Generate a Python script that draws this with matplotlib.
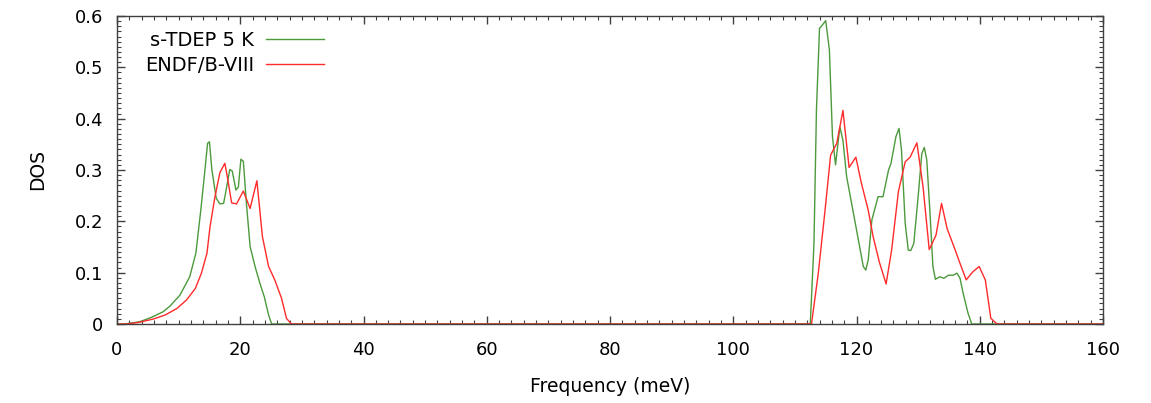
import matplotlib
matplotlib.use("Agg")
import matplotlib.pyplot as plt
from matplotlib.ticker import MultipleLocator

# s-TDEP 5 K phonon DOS (meV, states)
tdep_freq = [0.0, 1.3, 3.7, 5.6, 7.5, 8.6, 10.2, 11.8, 12.8, 13.6, 14.1, 14.7, 15.0,
             15.4, 16.1, 16.7, 17.3, 17.8, 18.3, 18.7, 19.3, 19.7, 20.1, 20.5, 21.0,
             21.6, 22.4, 23.2, 23.9, 24.6, 25.1,
             112.5, 113.1, 113.5, 114.0, 114.5, 115.0, 115.6, 116.1, 116.6, 117.3,
             117.8, 118.4, 119.5, 120.3, 121.1, 121.5, 121.9, 122.5, 123.5, 124.3,
             125.2, 125.6, 126.4, 126.9, 127.3, 127.9, 128.4, 128.8, 129.3, 130.0,
             130.6, 131.0, 131.4, 131.9, 132.4, 132.8, 133.5, 134.2, 134.9, 135.7,
             136.3, 136.8, 137.3, 138.1, 138.7, 160.0]
tdep_dos = [0.0, 0.0, 0.0045, 0.013, 0.024, 0.035, 0.056, 0.092, 0.138, 0.222, 0.28, 0.352, 0.355,
            0.30, 0.245, 0.234, 0.235, 0.267, 0.301, 0.298, 0.261, 0.267, 0.321, 0.317, 0.235,
            0.151, 0.112, 0.079, 0.053, 0.0175, 0.0,
            0.0, 0.157, 0.417, 0.576, 0.583, 0.591, 0.534, 0.365, 0.31, 0.384,
            0.358, 0.287, 0.216, 0.164, 0.112, 0.105, 0.125, 0.203, 0.248, 0.248,
            0.30, 0.313, 0.365, 0.381, 0.339, 0.196, 0.144, 0.143, 0.157, 0.248,
            0.332, 0.344, 0.32, 0.222, 0.112, 0.087, 0.092, 0.089, 0.095, 0.095,
            0.099, 0.089, 0.06, 0.021, 0.0, 0.0]

# ENDF/B-VIII phonon DOS
endf_freq = [0.0, 1.5, 3.5, 5.9, 7.8, 9.7, 11.3, 12.7, 13.7, 14.6, 15.1, 15.9, 16.7,
             17.5, 17.9, 18.6, 19.4, 20.5, 21.6, 22.7, 23.6, 24.6, 25.6, 26.7, 27.5, 28.3,
             112.7, 113.8, 114.9, 115.8, 116.8, 117.8, 118.8, 119.9, 120.8, 121.9,
             122.7, 123.7, 124.8, 125.7, 126.8, 127.9, 128.7, 129.8, 130.8, 131.8,
             132.9, 133.8, 134.7, 135.8, 136.8, 137.8, 138.9, 139.9, 140.9, 141.8, 142.8, 160.0]
endf_dos = [0.0, 0.0, 0.003, 0.0097, 0.0175, 0.030, 0.047, 0.069, 0.099, 0.138, 0.19, 0.248, 0.295,
            0.313, 0.287, 0.236, 0.234, 0.259, 0.225, 0.279, 0.170, 0.112, 0.086, 0.05, 0.011, 0.0,
            0.0, 0.099, 0.222, 0.329, 0.352, 0.416, 0.305, 0.325, 0.274, 0.222,
            0.17, 0.121, 0.078, 0.144, 0.258, 0.316, 0.325, 0.353, 0.267, 0.145,
            0.173, 0.235, 0.186, 0.151, 0.118, 0.086, 0.102, 0.112, 0.086, 0.011, 0.0, 0.0]

plt.rcParams['font.family'] = ['DejaVu Sans']
plt.rcParams['font.size'] = 13

fig = plt.figure(figsize=(11.51, 4.03), dpi=100)
ax = fig.add_axes([117 / 1151, 1 - 324 / 403, (1103 - 117) / 1151, (324 - 16) / 403])

ax.plot(tdep_freq, tdep_dos, color='#4c9a3c', lw=1.0, label='s-TDEP 5 K')
ax.plot(endf_freq, endf_dos, color='#ff2a2a', lw=1.0, label='ENDF/B-VIII')

ax.set_xlim(0, 160)
ax.set_ylim(0, 0.6)
ax.xaxis.set_major_locator(MultipleLocator(20))
ax.xaxis.set_minor_locator(MultipleLocator(2))
ax.yaxis.set_major_locator(MultipleLocator(0.1))
ax.yaxis.set_minor_locator(MultipleLocator(0.01))
ax.yaxis.set_major_formatter(matplotlib.ticker.FormatStrFormatter('%g'))
ax.tick_params(which='both', direction='in', top=True, right=True, color='#404040')
ax.tick_params(which='major', length=6, width=1)
ax.tick_params(which='minor', length=3, width=0.8)
ax.tick_params(axis='x', which='major', pad=12)
ax.tick_params(axis='y', which='major', pad=10)
for sp in ax.spines.values():
    sp.set_color('#404040')
    sp.set_linewidth(1.0)

ax.set_xlabel('Frequency (meV)', fontsize=13.5, labelpad=13)
ax.set_ylabel('DOS', fontsize=13.5, labelpad=20)

ax.legend(loc='upper right', bbox_to_anchor=(0.222, 0.99), frameon=False, markerfirst=False,
          fontsize=14, handlelength=3.0, handletextpad=0.6, labelspacing=0.3, borderpad=0.1)

fig.savefig('out.png', dpi=100)
